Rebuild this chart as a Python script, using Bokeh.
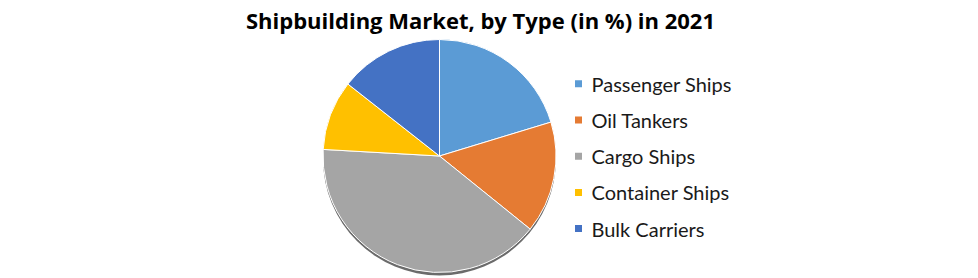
import numpy as np
from bokeh.plotting import figure
from bokeh.models import ColumnDataSource, Range1d
from bokeh.core.properties import value
from bokeh.embed import file_html
from bokeh.resources import INLINE

title_text = "Shipbuilding Market, by Type (in %) in 2021"
categories = ["Passenger Ships", "Oil Tankers", "Cargo Ships", "Container Ships", "Bulk Carriers"]
shares = [20.3, 15.5, 40.1, 9.7, 14.4]
colors = ["#5B9BD5", "#E57B33", "#A5A5A5", "#FFC000", "#4472C4"]

W, H = 978, 278
cx, cy, r = 439, H - 155.5, 116.5

vals = np.array(shares, dtype=float)
frac = vals / vals.sum()
cum = np.concatenate([[0], np.cumsum(frac)])
start = np.pi / 2 - cum[:-1] * 2 * np.pi
end = np.pi / 2 - cum[1:] * 2 * np.pi

p = figure(width=W, height=H, output_backend="svg", toolbar_location=None,
           x_range=Range1d(0, W), y_range=Range1d(0, H), min_border=0)
p.axis.visible = False
p.grid.visible = False
p.outline_line_color = None
p.background_fill_color = "white"

# shadow
p.wedge(x=cx, y=cy - 3, radius=r, start_angle=0, end_angle=2 * np.pi,
        fill_color="#3a3a3a", fill_alpha=0.75, line_color=None)

src = ColumnDataSource(dict(start=start, end=end, color=colors, cat=categories))
p.wedge(x=cx, y=cy, radius=r, start_angle="start", end_angle="end", direction="clock",
        fill_color="color", line_color="white", line_width=1, source=src)

# legend
ly = H - (83.3 + 36.2 * np.arange(len(categories)))
lsrc = ColumnDataSource(dict(x=[578] * len(categories), tx=[591] * len(categories),
                             y=ly, color=colors, cat=categories))
p.scatter(x="x", y="y", marker="square", size=7, fill_color="color", line_color=None, source=lsrc)
p.text(x="tx", y="y", text="cat", text_font=value("Lato"), text_font_size="20px",
       text_baseline="middle", text_align="left", text_color="#1a1a1a", source=lsrc)

p.text(x=[480], y=[H - 19], text=[title_text], text_font=value("Open Sans"), text_font_size="22px",
       text_font_style="bold", text_baseline="middle", text_align="center", text_color="#000000")

open("out.html", "w").write(file_html(p, INLINE))
